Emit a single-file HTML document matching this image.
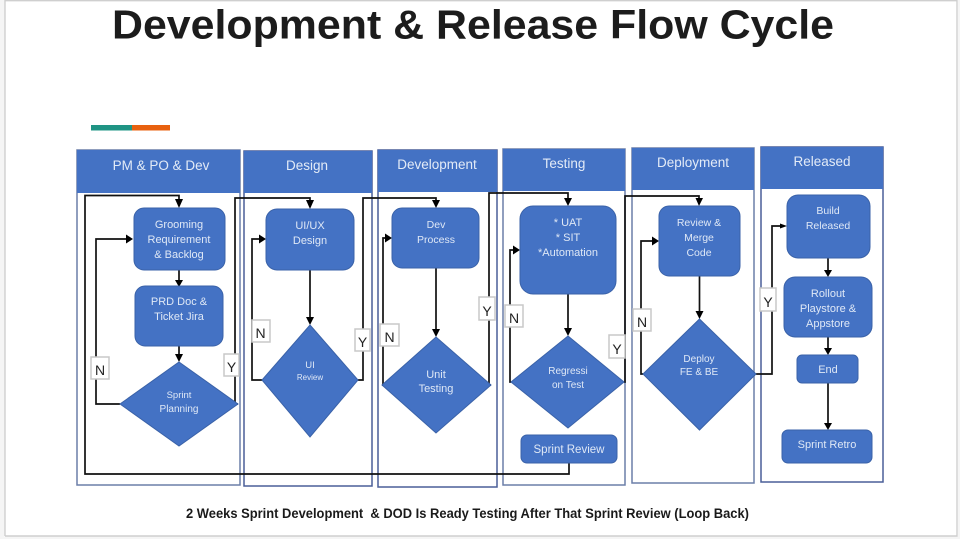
<!DOCTYPE html>
<html><head><meta charset="utf-8"><style>
html,body{margin:0;padding:0;background:#fff;width:960px;height:539px;overflow:hidden}
svg{display:block}
text{font-family:"Liberation Sans",sans-serif}
.w{fill:#dfe8f6;font-size:11px;text-anchor:middle}
.h{fill:#e3ebf7;font-size:13.5px;text-anchor:middle}
.l{fill:none;stroke:#6b7fa8;stroke-width:1.5}
.b{fill:#4472c4}
.s{fill:#4472c4;stroke:#3a62a8;stroke-width:1}
.c{fill:none;stroke:#111;stroke-width:1.7}
.a{fill:#000}
.lab{fill:#fff;stroke:#c8c8c8;stroke-width:1.5}
.lt{fill:#222;font-size:14px;text-anchor:middle}
</style></head><body>
<svg width="960" height="539" viewBox="0 0 960 539" xmlns="http://www.w3.org/2000/svg">
<rect width="960" height="539" fill="#fff"/>
<rect x="0" y="0" width="4.5" height="539" fill="#f5f5f5"/>
<rect x="958" y="0" width="2" height="539" fill="#f5f5f5"/>
<rect x="0" y="536.5" width="960" height="2.5" fill="#f5f5f5"/>
<path d="M5 536V.7H957V536H5" fill="none" stroke="#cfcfcf" stroke-width="1.4"/>

<text x="112" y="38.500" font-size="41" font-weight="bold" fill="#1c1c1c" textLength="722" lengthAdjust="spacingAndGlyphs">Development &amp; Release Flow Cycle</text>
<rect x="91" y="125" width="41" height="5.500" fill="#1f9484"/>
<rect x="132" y="125" width="38" height="5.500" fill="#e8610f"/>

<!-- lanes -->
<rect class="l" x="77" y="150" width="163" height="335"/><rect class="b" x="77" y="150" width="163" height="43"/>
<rect class="l" x="244" y="151" width="128" height="335" style="stroke:#4a5f98"/><rect class="b" x="244" y="151" width="128" height="42"/>
<rect class="l" x="378" y="150" width="119" height="337" style="stroke:#4a5f98"/><rect class="b" x="378" y="150" width="119" height="42"/>
<rect class="l" x="503" y="149" width="122" height="336"/><rect class="b" x="503" y="149" width="122" height="42"/>
<rect class="l" x="632" y="148" width="122" height="335"/><rect class="b" x="632" y="148" width="122" height="42"/>
<rect class="l" x="761" y="147" width="122" height="335" style="stroke:#4a5f98"/><rect class="b" x="761" y="147" width="122" height="42"/>
<text class="h" x="161" y="170">PM &amp; PO &amp; Dev</text>
<text class="h" x="307" y="170">Design</text>
<text class="h" x="437" y="169">Development</text>
<text class="h" x="564" y="168">Testing</text>
<text class="h" x="693" y="167">Deployment</text>
<text class="h" x="822" y="166">Released</text>

<!-- connectors -->
<g class="c">
<path d="M569 463V474H85V195.500H179V200"/>
<path d="M120 404H96V239H126"/>
<path d="M238 404H235V198H310V202"/>
<path d="M179 270V280M179 346V356"/>
<path d="M310 270V318"/>
<path d="M262 380H252V239H259"/>
<path d="M358 380H363V198H436V201"/>
<path d="M436 268V330"/>
<path d="M382 385H383V238H385"/>
<path d="M491 385H489V193H568V199"/>
<path d="M568 294V329"/>
<path d="M511 382H510V250H513"/>
<path d="M624 382H625V196H699V199"/>
<path d="M699.500 276V312"/>
<path d="M643 374H641V241H652"/>
<path d="M756 374H772V226H780"/>
<path d="M828 258V271M828 337V349M828 383V424"/>
</g>
<g class="a">
<path d="M175 199H183L179 208Z"/>
<path d="M126 234.500V243.500L133 239Z"/>
<path d="M306 200H314L310 209Z"/>
<path d="M175 280H183L179 287Z"/>
<path d="M175 354H183L179 362Z"/>
<path d="M306 317H314L310 325Z"/>
<path d="M259 234.500V243.500L266 239Z"/>
<path d="M432 200H440L436 208Z"/>
<path d="M432 329H440L436 337Z"/>
<path d="M385 233.500V242.500L392 238Z"/>
<path d="M564 198H572L568 206Z"/>
<path d="M564 328H572L568 336Z"/>
<path d="M513 245.500V254.500L520 250Z"/>
<path d="M695.500 198H703L699 206Z"/>
<path d="M695.500 311H703.500L699.500 319Z"/>
<path d="M652 236.500V245.500L659 241Z"/>
<path d="M780 223.500V228.500L787 226Z"/>
<path d="M824 270H832L828 277Z"/>
<path d="M824 348H832L828 355Z"/>
<path d="M824 423H832L828 430Z"/>
</g>

<!-- shapes -->
<rect class="s" x="134" y="208" width="91" height="62" rx="10"/>
<rect class="s" x="135" y="286" width="88" height="60" rx="10"/>
<polygon class="s" points="179,362 238,404 179,446 120,404"/>
<rect class="s" x="266" y="209" width="88" height="61" rx="11"/>
<polygon class="s" points="310,325 358,380 310,437 262,380"/>
<rect class="s" x="392" y="208" width="87" height="60" rx="10"/>
<polygon class="s" points="436,337 491,385 436,433 382,385"/>
<rect class="s" x="520" y="206" width="96" height="88" rx="13"/>
<polygon class="s" points="568,336 624,382 568,428 511,382"/>
<rect class="s" x="521" y="435" width="96" height="28" rx="6"/>
<rect class="s" x="659" y="206" width="81" height="70" rx="10"/>
<polygon class="s" points="699.500,319 756,374 699.500,430 643,374"/>
<rect class="s" x="787" y="195" width="83" height="63" rx="11"/>
<rect class="s" x="784" y="277" width="88" height="60" rx="11"/>
<rect class="s" x="797" y="355" width="61" height="28" rx="5"/>
<rect class="s" x="782" y="430" width="90" height="33" rx="6"/>

<!-- shape labels -->
<g class="w">
<text x="179" y="228">Grooming</text><text x="179" y="243">Requirement</text><text x="179" y="258">&amp; Backlog</text>
<text x="179" y="305">PRD Doc &amp;</text><text x="179" y="320">Ticket Jira</text>
<text x="179" y="398" font-size="9.500">Sprint</text><text x="179" y="412" font-size="10">Planning</text>
<text x="310" y="229">UI/UX</text><text x="310" y="244">Design</text>
<text x="310" y="368" font-size="9.500">UI</text><text x="310" y="380" font-size="8">Review</text>
<text x="436" y="228" font-size="10.500">Dev</text><text x="436" y="243" font-size="10.500">Process</text>
<text x="436" y="378">Unit</text><text x="436" y="392">Testing</text>
<text x="568" y="226">* UAT</text><text x="568" y="241">* SIT</text><text x="568" y="256">*Automation</text>
<text x="568" y="374" font-size="10">Regressi</text><text x="568" y="388" font-size="10">on Test</text>
<text x="569" y="453" font-size="11.500">Sprint Review</text>
<text x="699" y="226" font-size="10.500">Review &amp;</text><text x="699" y="241" font-size="10.500">Merge</text><text x="699" y="256" font-size="10.500">Code</text>
<text x="699" y="362" font-size="10">Deploy</text><text x="699" y="375" font-size="10">FE &amp; BE</text>
<text x="828" y="214" font-size="10.500">Build</text><text x="828" y="229" font-size="10.500">Released</text>
<text x="828" y="297">Rollout</text><text x="828" y="312">Playstore &amp;</text><text x="828" y="327">Appstore</text>
<text x="828" y="373">End</text>
<text x="827" y="448">Sprint Retro</text>
</g>

<!-- Y/N boxes -->
<rect class="lab" x="91" y="357" width="18" height="22"/><text class="lt" x="100" y="375">N</text>
<rect class="lab" x="224" y="354" width="15" height="22"/><text class="lt" x="231.500" y="372">Y</text>
<rect class="lab" x="252" y="320" width="18" height="22"/><text class="lt" x="260.500" y="338">N</text>
<rect class="lab" x="355" y="329" width="15" height="22"/><text class="lt" x="362.500" y="347">Y</text>
<rect class="lab" x="380" y="324" width="19" height="22"/><text class="lt" x="389.500" y="342">N</text>
<rect class="lab" x="479" y="297" width="16" height="23"/><text class="lt" x="487" y="316">Y</text>
<rect class="lab" x="505" y="305" width="18" height="22"/><text class="lt" x="514" y="323">N</text>
<rect class="lab" x="609" y="335" width="16" height="23"/><text class="lt" x="617" y="354">Y</text>
<rect class="lab" x="633" y="309" width="18" height="22"/><text class="lt" x="642" y="327">N</text>
<rect class="lab" x="760" y="288" width="16" height="23"/><text class="lt" x="768" y="307">Y</text>

<text x="186" y="518" font-size="13.500" font-weight="bold" fill="#1a1a1a" textLength="563" lengthAdjust="spacingAndGlyphs" xml:space="preserve">2 Weeks Sprint Development  &amp; DOD Is Ready Testing After That Sprint Review (Loop Back)</text>
</svg>
</body></html>
